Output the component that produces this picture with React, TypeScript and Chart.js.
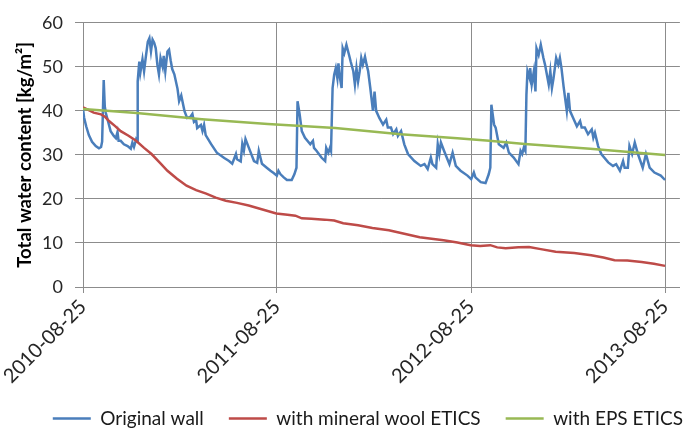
import React, { useEffect, useRef } from 'react';
import { Chart, registerables } from 'chart.js';

Chart.register(...registerables);

// X axis: days since 2010-08-25
const xTickDays = [0, 365, 731, 1096];
const xTickLabels = ['2010-08-25', '2011-08-25', '2012-08-25', '2013-08-25'];
const yTickStep = 10;
const yMin = 0;
const yMax = 60;

const seriesNames = ['Original wall', 'with mineral wool ETICS', 'with EPS ETICS'];

const originalDays = [
  0, 2, 6, 11, 17, 24, 30, 34, 36, 39, 41, 43, 47, 52, 58, 62, 65, 67, 71, 77, 84, 90, 93, 96, 100, 102,
  103, 106, 108, 112, 115, 118, 122, 125, 128, 131, 134, 137, 140, 143, 146, 150, 152, 155, 159, 162, 165,
  168, 172, 178, 181, 185, 191, 196, 202, 206, 209, 213, 215, 222, 225, 228, 231, 241, 252, 266, 275, 281,
  288, 290, 297, 300, 303, 306, 312, 322, 328, 331, 337, 346, 353, 359, 365, 368, 372, 378, 384, 393, 398,
  402, 404, 408, 412, 418, 428, 433, 435, 440, 449, 456, 458, 462, 465, 467, 470, 473, 476, 479, 481, 484,
  487, 489, 492, 496, 501, 504, 509, 512, 515, 518, 521, 524, 527, 531, 534, 537, 541, 546, 549, 552, 558,
  565, 571, 574, 580, 584, 590, 593, 599, 605, 612, 624, 636, 643, 649, 655, 658, 665, 668, 671, 674, 680,
  690, 696, 702, 711, 724, 731, 736, 739, 749, 758, 764, 767, 769, 774, 777, 783, 792, 797, 802, 811, 820,
  824, 827, 830, 833, 835, 837, 841, 842, 845, 849, 852, 854, 858, 862, 867, 870, 877, 880, 883, 886, 891,
  895, 898, 901, 905, 911, 914, 917, 923, 930, 936, 939, 945, 951, 958, 961, 964, 970, 976, 989, 998, 1004,
  1011, 1017, 1020, 1026, 1029, 1034, 1039, 1045, 1054, 1060, 1067, 1076, 1088, 1096,
];
const originalValues = [
  40.5, 38.5, 36.5, 34.5, 33, 32, 31.5, 31.8, 33, 47, 41, 39.5, 37.7, 35.4, 34.3, 33.8, 35.2, 33.2, 33.2, 32.4, 32, 31.4, 32.8, 31.8, 33.5, 33,
  46.7, 51.2, 48.7, 51.7, 49, 52, 55.7, 56.5, 53.5, 56.2, 55.5, 54.2, 50.5, 48.3, 52, 50, 52.5, 49, 53.5, 53.9, 51.5,
  49.5, 48.3, 45, 42.2, 43.5, 40, 38.4, 38.6, 39.3, 37.5, 37.9, 36.1, 36.8, 35.4, 36.8, 34.5, 32.5, 30.5, 29.3, 28.6, 28,
  30.2, 29, 28.5, 32.5, 31, 33.6, 31.7, 28.6, 28.2, 30.9, 28, 27.1, 26.4, 25.9, 25.3, 26.4, 25.6, 24.9, 24.3, 24.3, 25.6,
  27.1, 42.2, 39.2, 35.4, 33.9, 32.4, 33.2, 31.6, 30.9, 29.4, 28.6, 31.6, 30.5, 31.6, 30.9, 45.2, 48.2, 49.7, 47.4, 50.8, 47.4,
  45.2, 54.2, 53.1, 55, 52.7, 51.2, 49, 46, 49.7, 46.7, 49, 52, 50.5, 52.3, 50.5, 49, 45.2, 40, 44.4, 40, 38.4,
  36.9, 38, 36.2, 36.2, 34.7, 35.8, 34.3, 35.4, 32.4, 30.2, 28.6, 27.5, 27.9, 26.8, 29.4, 27.9, 27.1, 32.4, 30.2, 32.8, 30.9,
  27.9, 30.5, 27.5, 26.4, 25.3, 24.5, 26, 24.9, 23.8, 23.6, 25.6, 27.1, 41.4, 36.9, 36.2, 32.4, 31.6, 32.8, 30.5, 29.4, 27.9,
  30.9, 30.2, 31.6, 30.9, 43.7, 49, 47.4, 49.7, 46, 49, 44.4, 54.2, 52.7, 55, 52, 50.5, 46, 49, 45.2, 47.4, 52,
  50.5, 52, 49.7, 45.5, 40, 44.1, 40, 38.4, 36.5, 37.7, 36.2, 36.2, 34.7, 35.8, 33.9, 35, 32, 30.2, 28.3, 27.5, 27.9,
  26.4, 28.6, 27.1, 27.1, 32, 30.2, 32.8, 30.2, 27.1, 30.2, 27.1, 26, 25.3, 24.3,
];

const woolDays = [
  0, 10, 20, 34, 42, 49, 60, 71, 85, 100, 115, 129, 145, 159, 177, 195, 213, 232, 250, 269, 290, 312, 338,
  364, 385, 400, 412, 430, 455, 473, 490, 518, 545, 576, 605, 634, 660, 679, 705, 730, 748, 767, 780, 796,
  820, 840, 862, 890, 925, 957, 980, 1001, 1025, 1052, 1075, 1096,
];
const woolValues = [
  40.8, 40.2, 39.6, 39.2, 38.6, 37.7, 36.6, 35.4, 34.4, 33.2, 31.6, 30.2, 28.2, 26.4, 24.6, 23, 22, 21.2, 20.3, 19.6, 19.1, 18.5, 17.6,
  16.7, 16.4, 16.2, 15.6, 15.5, 15.3, 15.1, 14.5, 14, 13.4, 12.9, 12.1, 11.3, 10.9, 10.6, 10.1, 9.5, 9.3, 9.5, 9.0, 8.8,
  9.0, 9.1, 8.6, 8.0, 7.7, 7.2, 6.7, 6.1, 6.0, 5.7, 5.3, 4.8,
];

const epsDays = [0, 101, 224, 348, 475, 598, 705, 765, 832, 955, 1096];
const epsValues = [40.4, 39.5, 38.1, 37, 36.1, 34.7, 33.8, 33.2, 32.5, 31.4, 30];

const toPoints = (days: number[], values: number[]) => days.map((d, i) => ({ x: d, y: values[i] }));

export default function App() {
  const canvasRef = useRef<HTMLCanvasElement | null>(null);

  useEffect(() => {
    if (!canvasRef.current) return;
    const gridColor = '#8c8c8c';
    const fontFamily = 'Lato, "Noto Sans", sans-serif';
    const chart = new Chart(canvasRef.current, {
      type: 'line',
      data: {
        datasets: [
          {
            label: seriesNames[0],
            data: toPoints(originalDays, originalValues),
            borderColor: '#4A7EBB',
            backgroundColor: '#4A7EBB',
            borderWidth: 2.5,
            pointRadius: 0,
            tension: 0,
            order: 2,
          },
          {
            label: seriesNames[1],
            data: toPoints(woolDays, woolValues),
            borderColor: '#BE4B48',
            backgroundColor: '#BE4B48',
            borderWidth: 2.5,
            pointRadius: 0,
            tension: 0,
            order: 1,
          },
          {
            label: seriesNames[2],
            data: toPoints(epsDays, epsValues),
            borderColor: '#98B954',
            backgroundColor: '#98B954',
            borderWidth: 2.5,
            pointRadius: 0,
            tension: 0,
            order: 0,
          },
        ],
      },
      options: {
        responsive: false,
        animation: false,
        layout: { padding: { top: 21, left: 0, right: -24, bottom: -5 } },
        plugins: {
          tooltip: { enabled: false },
          legend: {
            position: 'bottom',
            align: 'end',
            labels: {
              usePointStyle: true,
              pointStyle: 'line',
              pointStyleWidth: 38,
              padding: 25,
              color: '#1a1a1a',
              font: { family: fontFamily, size: 19 },
              sort: (a: any, b: any) => a.datasetIndex - b.datasetIndex,
            },
          },
        },
        scales: {
          x: {
            type: 'linear',
            min: 0,
            max: 1124,
            afterFit: (scale: any) => {
              scale.height = 97;
            },
            afterBuildTicks: (scale: any) => {
              scale.ticks = xTickDays.map((v) => ({ value: v }));
            },
            grid: { color: gridColor, lineWidth: 1, tickLength: 6, drawTicks: true },
            border: { color: gridColor, width: 1 },
            ticks: {
              autoSkip: false,
              minRotation: 45,
              maxRotation: 45,
              padding: 2,
              color: '#262626',
              font: { family: fontFamily, size: 20 },
              callback: (v: any) => {
                const i = xTickDays.indexOf(Number(v));
                return i >= 0 ? xTickLabels[i] : '';
              },
            },
          },
          y: {
            min: yMin,
            max: yMax,
            afterFit: (scale: any) => {
              scale.width = 83;
            },
            grid: { color: gridColor, lineWidth: 1, tickLength: 8 },
            border: { color: gridColor, width: 1 },
            ticks: {
              stepSize: yTickStep,
              padding: 12,
              color: '#262626',
              font: { family: fontFamily, size: 18 },
            },
            title: {
              display: true,
              text: 'Total water content [kg/m²]',
              color: '#000000',
              font: { family: fontFamily, size: 18.5, weight: 'bold' },
              padding: { top: 14, bottom: 0 },
            },
          },
        },
      },
    });
    return () => chart.destroy();
  }, []);

  return (
    <div style={{ position: 'fixed', left: 0, top: 0, width: 684, height: 433, background: '#ffffff' }}>
      <canvas ref={canvasRef} width={684} height={433} style={{ display: 'block' }} />
    </div>
  );
}
